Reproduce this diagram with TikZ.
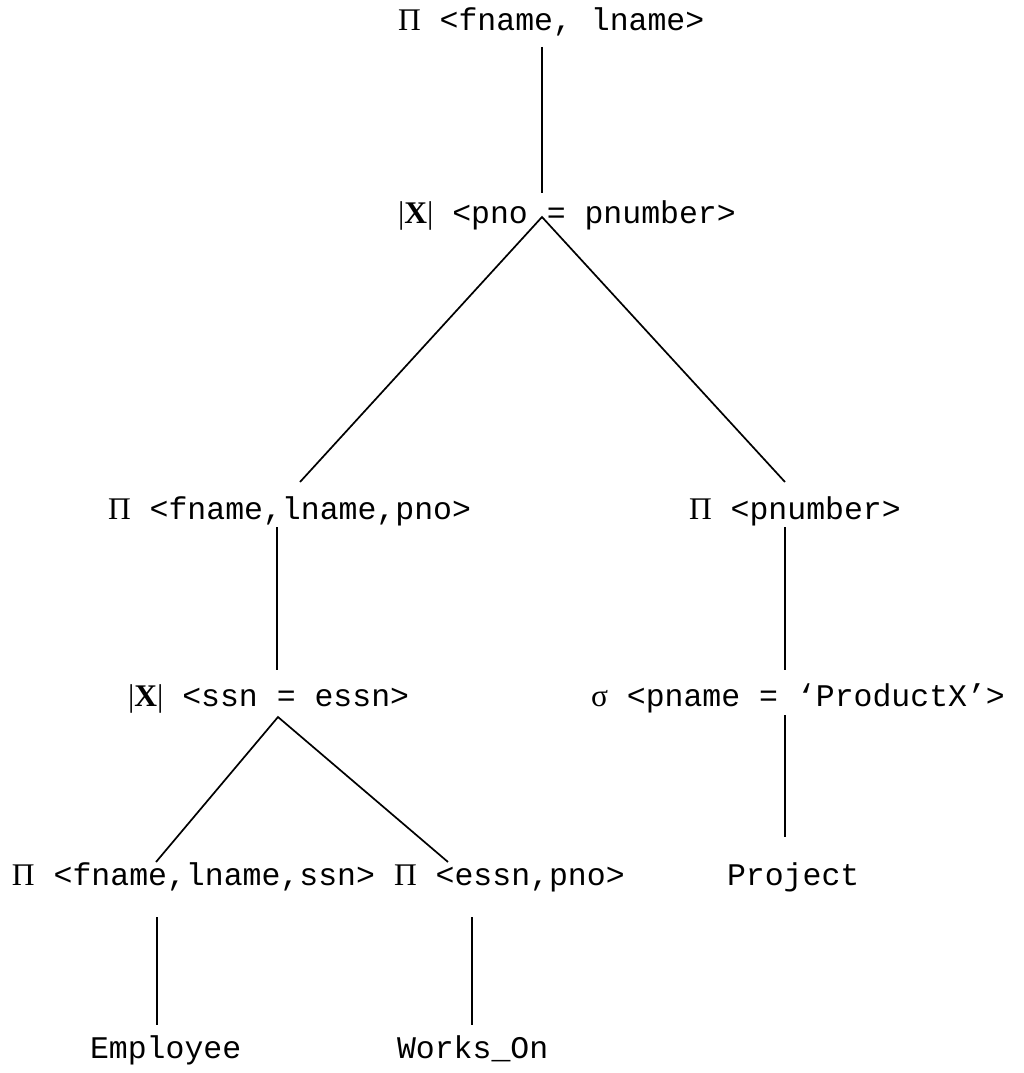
\documentclass[tikz,border=0pt]{standalone}
\usepackage{fontspec}
\newfontfamily\monofont{Liberation Mono}
\newfontfamily\symfont{Liberation Serif}
\newcommand{\myPi}{{\symfont Π}}
\newcommand{\myJoin}{{\symfont |\textbf{X}|}}
\newcommand{\mySig}{{\symfont σ}}
\begin{document}
\begin{tikzpicture}[x=1pt,y=-1pt,
  lbl/.style={anchor=base west, inner sep=0pt, outer sep=0pt,
    font=\fontsize{31.5}{38}\selectfont\monofont},
  edge/.style={line width=1.7pt}]
\useasboundingbox (0,0) rectangle (1024,1073);
% nodes
\node[lbl] (top)  at (398,31)  {\myPi{} <fname, lname>};
\node[lbl] (j1)   at (398,223) {\myJoin{} <pno = pnumber>};
\node[lbl] (p1)   at (108,519) {\myPi{} <fname,lname,pno>};
\node[lbl] (p2)   at (689,519) {\myPi{} <pnumber>};
\node[lbl] (j2)   at (128,706) {\myJoin{} <ssn = essn>};
\node[lbl] (s1)   at (591,706) {\mySig{} <pname = ‘ProductX’>};
\node[lbl] (p3)   at (12,885)  {\myPi{} <fname,lname,ssn>};
\node[lbl] (p4)   at (394,885) {\myPi{} <essn,pno>};
\node[lbl] (proj) at (727,885) {Project};
\node[lbl] (emp)  at (90,1058) {Employee};
\node[lbl] (wo)   at (397,1058) {Works\_On};
% connector ends
\coordinate (top-b) at (542,47);
\coordinate (j1-t)  at (542,193);
\coordinate (j1-b)  at (542,217);
\coordinate (p1-t)  at (300,482);
\coordinate (p2-t)  at (785,482);
\coordinate (p1-b)  at (277,527);
\coordinate (j2-t)  at (277,670);
\coordinate (p2-b)  at (785,527);
\coordinate (s1-t)  at (785,670);
\coordinate (j2-b)  at (278,717);
\coordinate (p3-t)  at (156,862);
\coordinate (p4-t)  at (448,862);
\coordinate (s1-b)  at (785,715);
\coordinate (proj-t) at (785,837);
\coordinate (p3-b)  at (157,917);
\coordinate (emp-t) at (157,1025);
\coordinate (p4-b)  at (472,917);
\coordinate (wo-t)  at (472,1025);
% connectors
\draw[edge] (top-b) -- (j1-t);
\draw[edge] (p1-t) -- (j1-b) -- (p2-t);
\draw[edge] (p1-b) -- (j2-t);
\draw[edge] (p2-b) -- (s1-t);
\draw[edge] (p3-t) -- (j2-b) -- (p4-t);
\draw[edge] (s1-b) -- (proj-t);
\draw[edge] (p3-b) -- (emp-t);
\draw[edge] (p4-b) -- (wo-t);
\end{tikzpicture}
\end{document}
